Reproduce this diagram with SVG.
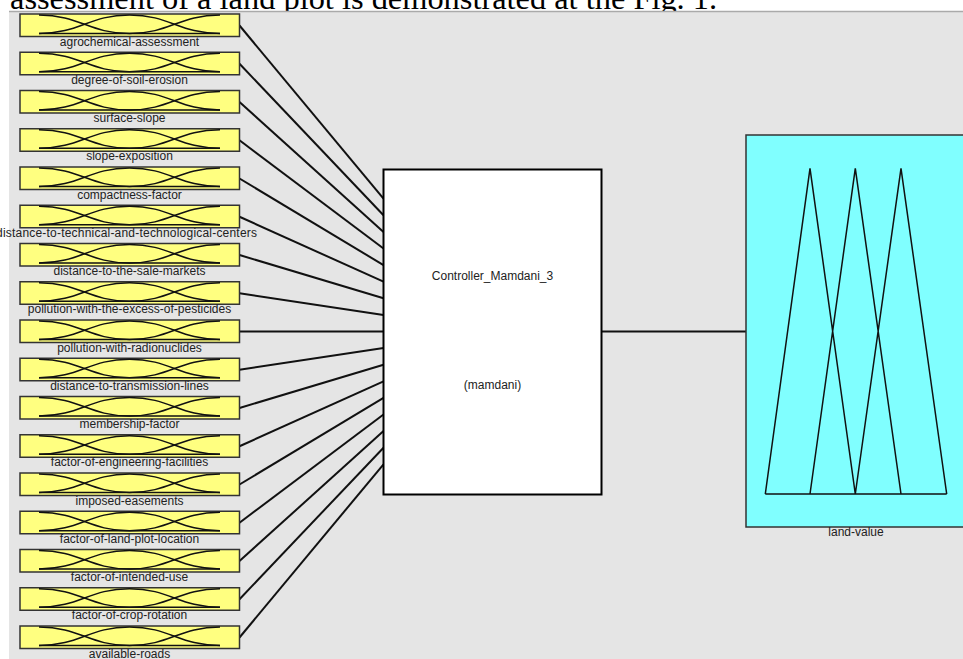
<svg xmlns="http://www.w3.org/2000/svg" xmlns:xlink="http://www.w3.org/1999/xlink" width="963" height="659" viewBox="0 0 963 659">
<style>
.title{font-family:"Liberation Serif","Times New Roman",serif;font-size:32.4px;fill:#000}
.lbl{font-family:"Liberation Sans",Arial,sans-serif;font-size:12px;fill:#222;text-anchor:middle}
.inbox{fill:#ffff80;stroke:#333;stroke-width:1.5}
.mf{fill:none;stroke:#111;stroke-width:1.5}
.conn{stroke:#111;stroke-width:2;fill:none}
.ctrl{fill:#fff;stroke:#000;stroke-width:2}
.outbox{fill:#80ffff;stroke:#333;stroke-width:1.5}
</style>
<defs>
<g id="inshape">
<rect class="inbox" x="20" y="0" width="219.5" height="22.5"/>
<path class="mf" d="M39,1 C80,1 89,19.5 129.5,19.5 L220,19.5"/>
<path class="mf" d="M39,19.5 C80,19.5 89,1 129.5,1 C170,1 179,19.5 220,19.5"/>
<path class="mf" d="M39,19.5 L129.5,19.5 C170,19.5 179,1 220,1"/>
</g>
</defs>
<rect x="0" y="0" width="963" height="659" fill="#fff"/>
<text class="title" x="10" y="9">assessment of a land plot is demonstrated at the Fig. 1.</text>
<rect x="9" y="11.5" width="960" height="650" fill="#e5e5e5"/>
<line x1="9" y1="11.5" x2="963" y2="11.5" stroke="#aaa" stroke-width="1.5"/>

<g id="connectors">
<line class="conn" x1="239.5" y1="25.5" x2="383.5" y2="198.7"/>
<line class="conn" x1="239.5" y1="63.75" x2="383.5" y2="215.3"/>
<line class="conn" x1="239.5" y1="102" x2="383.5" y2="231.9"/>
<line class="conn" x1="239.5" y1="140.25" x2="383.5" y2="248.5"/>
<line class="conn" x1="239.5" y1="178.5" x2="383.5" y2="265.1"/>
<line class="conn" x1="239.5" y1="216.75" x2="383.5" y2="281.7"/>
<line class="conn" x1="239.5" y1="255" x2="383.5" y2="298.3"/>
<line class="conn" x1="239.5" y1="293.25" x2="383.5" y2="314.9"/>
<line class="conn" x1="239.5" y1="331.5" x2="383.5" y2="331.5"/>
<line class="conn" x1="239.5" y1="369.75" x2="383.5" y2="348.1"/>
<line class="conn" x1="239.5" y1="408" x2="383.5" y2="364.7"/>
<line class="conn" x1="239.5" y1="446.25" x2="383.5" y2="381.3"/>
<line class="conn" x1="239.5" y1="484.5" x2="383.5" y2="397.9"/>
<line class="conn" x1="239.5" y1="522.75" x2="383.5" y2="414.5"/>
<line class="conn" x1="239.5" y1="561" x2="383.5" y2="431.1"/>
<line class="conn" x1="239.5" y1="599.25" x2="383.5" y2="447.7"/>
<line class="conn" x1="239.5" y1="637.5" x2="383.5" y2="464.3"/>
<line class="conn" x1="601.5" y1="331.5" x2="746" y2="331.5"/>
</g>

<g id="in-agrochemical-assessment" transform="translate(0,14)"><use xlink:href="#inshape"/><text class="lbl" x="129.5" y="31.5">agrochemical-assessment</text></g>
<g id="in-degree-of-soil-erosion" transform="translate(0,52.25)"><use xlink:href="#inshape"/><text class="lbl" x="129.5" y="31.5">degree-of-soil-erosion</text></g>
<g id="in-surface-slope" transform="translate(0,90.5)"><use xlink:href="#inshape"/><text class="lbl" x="129.5" y="31.5">surface-slope</text></g>
<g id="in-slope-exposition" transform="translate(0,128.75)"><use xlink:href="#inshape"/><text class="lbl" x="129.5" y="31.5">slope-exposition</text></g>
<g id="in-compactness-factor" transform="translate(0,167)"><use xlink:href="#inshape"/><text class="lbl" x="129.5" y="31.5">compactness-factor</text></g>
<g id="in-distance-to-technical-centers" transform="translate(0,205.25)"><use xlink:href="#inshape"/><text class="lbl" x="-4" y="31.5" style="text-anchor:start" textLength="261" lengthAdjust="spacing">distance-to-technical-and-technological-centers</text></g>
<g id="in-distance-to-the-sale-markets" transform="translate(0,243.5)"><use xlink:href="#inshape"/><text class="lbl" x="129.5" y="31.5">distance-to-the-sale-markets</text></g>
<g id="in-pollution-pesticides" transform="translate(0,281.75)"><use xlink:href="#inshape"/><text class="lbl" x="129.5" y="31.5">pollution-with-the-excess-of-pesticides</text></g>
<g id="in-pollution-with-radionuclides" transform="translate(0,320)"><use xlink:href="#inshape"/><text class="lbl" x="129.5" y="31.5">pollution-with-radionuclides</text></g>
<g id="in-distance-to-transmission-lines" transform="translate(0,358.25)"><use xlink:href="#inshape"/><text class="lbl" x="129.5" y="31.5">distance-to-transmission-lines</text></g>
<g id="in-membership-factor" transform="translate(0,396.5)"><use xlink:href="#inshape"/><text class="lbl" x="129.5" y="31.5">membership-factor</text></g>
<g id="in-factor-of-engineering-facilities" transform="translate(0,434.75)"><use xlink:href="#inshape"/><text class="lbl" x="129.5" y="31.5">factor-of-engineering-facilities</text></g>
<g id="in-imposed-easements" transform="translate(0,473)"><use xlink:href="#inshape"/><text class="lbl" x="129.5" y="31.5">imposed-easements</text></g>
<g id="in-factor-of-land-plot-location" transform="translate(0,511.25)"><use xlink:href="#inshape"/><text class="lbl" x="129.5" y="31.5">factor-of-land-plot-location</text></g>
<g id="in-factor-of-intended-use" transform="translate(0,549.5)"><use xlink:href="#inshape"/><text class="lbl" x="129.5" y="31.5">factor-of-intended-use</text></g>
<g id="in-factor-of-crop-rotation" transform="translate(0,587.75)"><use xlink:href="#inshape"/><text class="lbl" x="129.5" y="31.5">factor-of-crop-rotation</text></g>
<g id="in-available-roads" transform="translate(0,626)"><use xlink:href="#inshape"/><text class="lbl" x="129.5" y="31.5">available-roads</text></g>

<g id="controller">
<rect class="ctrl" x="383.5" y="169.5" width="218" height="325"/>
<text class="lbl" x="492.5" y="279.5">Controller_Mamdani_3</text>
<text class="lbl" x="492.5" y="389">(mamdani)</text>
</g>

<g id="out-land-value">
<rect class="outbox" x="746" y="135" width="220" height="392"/>
<path class="mf" d="M765.3,494 L810,168.3 L855.3,494 M810,494 L855.3,168.3 L901,494 M855.3,494 L901,168.3 L946.7,494 M765.3,494 L946.7,494"/>
<text class="lbl" x="856" y="536">land-value</text>
</g>
</svg>
